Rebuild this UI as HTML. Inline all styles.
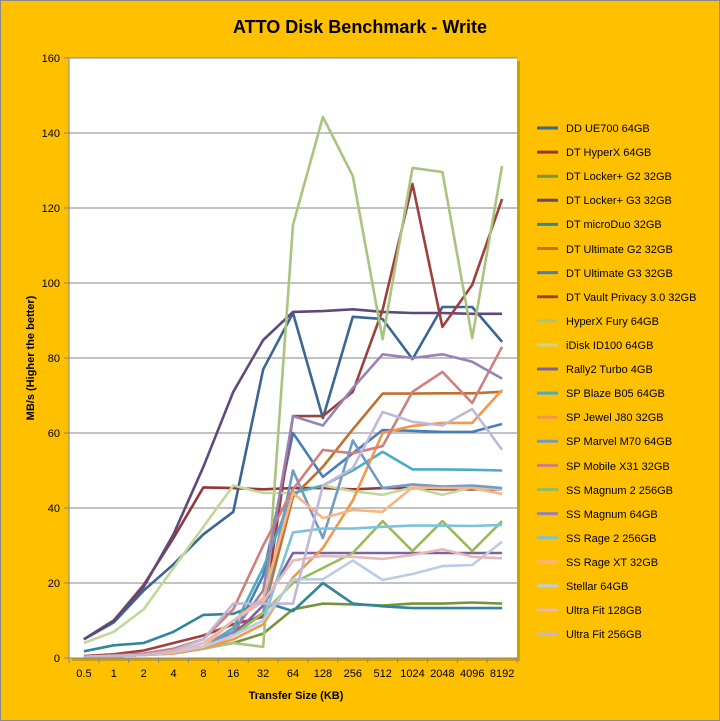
<!DOCTYPE html>
<html><head><meta charset="utf-8"><style>
html,body{margin:0;padding:0;background:#FFC000;}
#c{position:relative;width:718px;height:719px;border:1px solid #8a8a8a;background:#FFC000;overflow:hidden;font-family:"Liberation Sans",sans-serif;}
svg{position:absolute;left:-1px;top:-1px;}
</style></head><body><div id="c">
<svg id="s" width="720" height="721" xmlns="http://www.w3.org/2000/svg" font-family="Liberation Sans, sans-serif">
<text x="360" y="33" text-anchor="middle" font-size="18" font-weight="bold" fill="#000">ATTO Disk Benchmark - Write</text>
<rect x="72" y="61" width="448" height="600" fill="#9a7a00" opacity="0.45"/>
<rect x="69" y="58" width="448" height="600" fill="#fff"/>
<g id="grid" stroke="#868686" stroke-width="1"></g>
<g id="lines" fill="none" stroke-width="2.6" stroke-linejoin="round"></g>
<g id="ax" stroke="#868686" stroke-width="1"></g>
<g id="yl" font-size="11" text-anchor="end" fill="#000"></g>
<g id="xl" font-size="11" text-anchor="middle" fill="#000"></g>
<text x="296" y="699" text-anchor="middle" font-size="11" font-weight="bold">Transfer Size (KB)</text>
<text transform="translate(34,358) rotate(-90)" text-anchor="middle" font-size="11" font-weight="bold">MB/s (Higher the better)</text>
<g font-size="11" fill="#000">
<text x="566" y="132">DD UE700 64GB</text>
<text x="566" y="156">DT HyperX 64GB</text>
<text x="566" y="180">DT Locker+ G2 32GB</text>
<text x="566" y="204">DT Locker+ G3 32GB</text>
<text x="566" y="228">DT microDuo 32GB</text>
<text x="566" y="253">DT Ultimate G2 32GB</text>
<text x="566" y="277">DT Ultimate G3 32GB</text>
<text x="566" y="301">DT Vault Privacy 3.0 32GB</text>
<text x="566" y="325">HyperX Fury 64GB</text>
<text x="566" y="349">iDisk ID100 64GB</text>
<text x="566" y="373">Rally2 Turbo 4GB</text>
<text x="566" y="397">SP Blaze B05 64GB</text>
<text x="566" y="421">SP Jewel J80 32GB</text>
<text x="566" y="445">SP Marvel M70 64GB</text>
<text x="566" y="470">SP Mobile X31 32GB</text>
<text x="566" y="494">SS Magnum 2 256GB</text>
<text x="566" y="518">SS Magnum 64GB</text>
<text x="566" y="542">SS Rage 2 256GB</text>
<text x="566" y="566">SS Rage XT 32GB</text>
<text x="566" y="590">Stellar 64GB</text>
<text x="566" y="614">Ultra Fit 128GB</text>
<text x="566" y="638">Ultra Fit 256GB</text>
</g>
<g id="leg" stroke-width="3"></g>
</svg></div>
<script>
var ns="http://www.w3.org/2000/svg";
function el(p,t,a){var e=document.createElementNS(ns,t);for(var k in a)e.setAttribute(k,a[k]);document.getElementById(p).appendChild(e);return e;}
function Y(v){return 658-v*3.75;}
function X(i){return 69+29.87*(i+0.5);}
for(var v=20;v<=160;v+=20){el("grid","line",{x1:69,x2:517,y1:Y(v),y2:Y(v)});}
for(var v=0;v<=160;v+=20){el("ax","line",{x1:64,x2:69,y1:Y(v),y2:Y(v)});var t=el("yl","text",{x:60,y:Y(v)+4});t.textContent=v;}
el("ax","line",{x1:69,x2:69,y1:58,y2:658});el("ax","line",{x1:69,x2:517,y1:658,y2:658});
var labs=["0.5","1","2","4","8","16","32","64","128","256","512","1024","2048","4096","8192"];
for(var i=0;i<=15;i++){el("ax","line",{x1:69+29.87*i,x2:69+29.87*i,y1:658,y2:663});}
for(var i=0;i<15;i++){var t=el("xl","text",{x:X(i),y:677});t.textContent=labs[i];}
var S=[
["#3B6593",[5,9.5,18,25,33,39,77,92,64,91,90.4,79.7,93.6,93.6,84.3]],
["#953735",[5,10,19.5,32,45.5,45.3,45,45.3,45.3,45,45.3,45.3,45,45,45]],
["#77933C",[0.3,0.5,0.8,1.2,2.5,4,6.5,13,14.5,14.3,14,14.5,14.5,14.8,14.5]],
["#5F497A",[5,10,19,33,51,71,84.8,92.3,92.5,93,92.3,92,92,91.8,91.8]],
["#31859C",[1.8,3.4,4,7,11.5,11.8,15,12.5,20,14.5,13.8,13.3,13.3,13.3,13.3]],
["#C0712D",[0.3,0.5,0.8,1.5,3,7,12,43,51,61,70.5,70.5,70.6,70.6,71]],
["#4A7EBB",[0.3,0.5,0.8,1.5,3,6,22,60,48.3,54.6,60.8,60.6,60.3,60.3,62.4]],
["#A0403D",[0.5,1,2,4,6,9,11,64.5,64.5,71,92.8,126.4,88.3,99.5,122.4]],
["#A9C47F",[0.3,0.5,0.8,1.2,2.5,4,3,115.5,144.3,128.5,85,130.7,129.6,85.3,131.2]],
["#C3D69B",[4,7,13,24,35,46,44,44,46,44.5,43.5,45.5,43.5,45.5,45]],
["#7E649E",[0.3,0.5,0.8,1.5,3,6,14,28,28,28,28,28,28,28,28]],
["#4BACC6",[0.3,0.5,0.8,1.5,3,8,24,44,46,50,55,50.3,50.3,50.2,50]],
["#F79646",[0.3,0.5,0.8,1.2,2.5,5,9,21.5,29.3,42,60,61.9,62.7,62.7,71.5]],
["#7399C6",[0.3,0.5,0.8,1.5,3,6,12,50,32,58,45.3,46.3,45.7,46,45.3]],
["#D07F7D",[0.4,0.7,1.2,2.5,5,13,30,45,55.5,54.6,56.5,71,76.3,68,83]],
["#9BBB59",[0.3,0.5,0.8,1.5,3,6,12,20,24,28,36.5,28.5,36.5,28.5,36.5]],
["#9983B5",[0.3,0.5,0.8,1.5,3,7,18,64.5,62,72,81,80,81,79,74.5]],
["#7CC3DA",[0.3,0.5,0.8,1.5,3,6,10,33.5,34.5,34.5,35,35.3,35.3,35.2,35.5]],
["#FAB383",[0.3,0.5,0.8,1.5,3,10,16,44,37.3,39.5,39,45.5,45.3,45.3,43.8]],
["#B9CDE5",[0.3,0.5,0.8,1.5,3,6,10,21,21,26,20.8,22.4,24.5,24.8,31]],
["#E6B9B8",[0.3,0.5,0.8,1.5,4,10,15,26,27.2,27,26.4,27.5,29,27,26.6]],
["#C0B8D8",[0.3,0.5,0.8,2,5,14.5,14.5,14.5,46,50.6,65.6,63,62,66.4,55.5]]
];
S.forEach(function(s,k){var p=s[1].map(function(v,i){return X(i).toFixed(1)+","+Y(v).toFixed(1);}).join(" ");
el("lines","polyline",{points:p,stroke:s[0]});
var y=128+24.1*k;el("leg","line",{x1:537,x2:558,y1:y,y2:y,stroke:s[0]});});
</script>
</body></html>
